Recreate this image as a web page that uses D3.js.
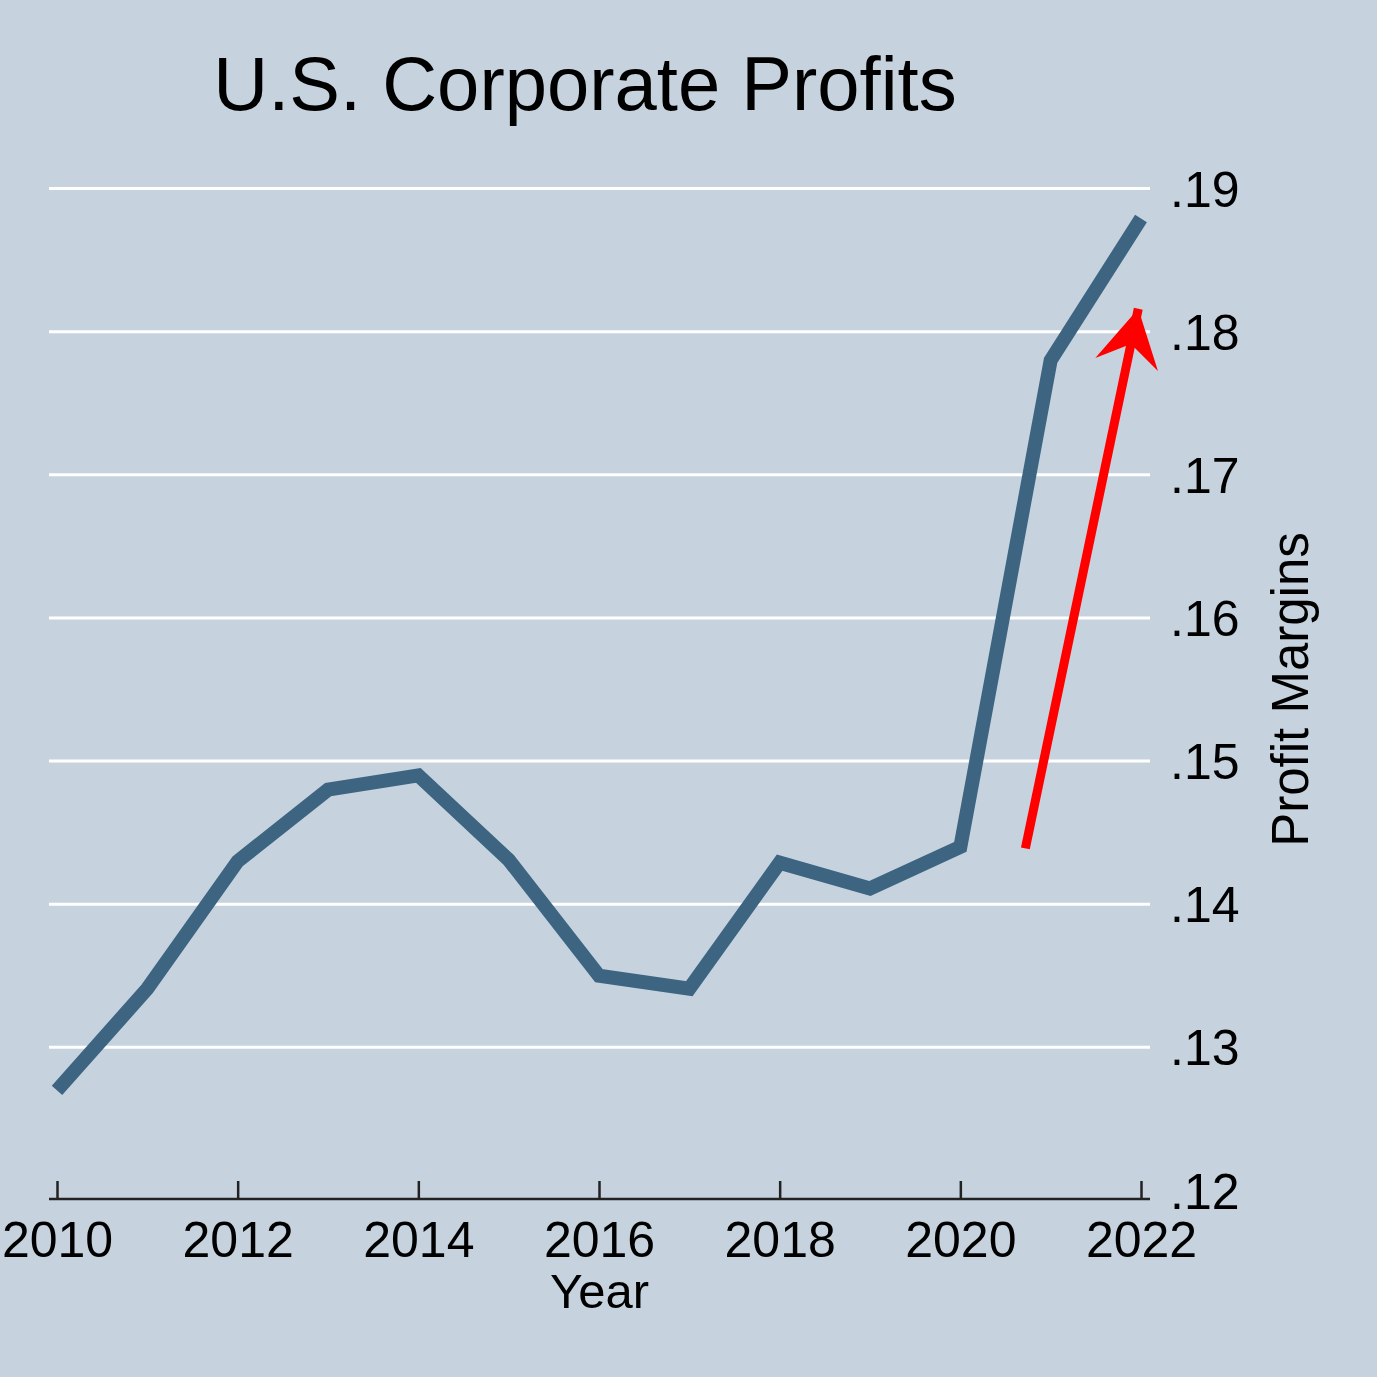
<!DOCTYPE html>
<html>
<head>
<meta charset="utf-8">
<script src="https://cdn.jsdelivr.net/npm/d3@7"></script>
<style>
  html, body { margin: 0; padding: 0; background: #c6d3df; }
  text { font-family: "Liberation Sans", Arial, sans-serif; fill: #000; }
</style>
</head>
<body>
<div id="chart"></div>
<script>
// data
var years = [2010, 2011, 2012, 2013, 2014, 2015, 2016, 2017, 2018, 2019, 2020, 2021, 2022];
var margins = [0.1270, 0.1341, 0.1430, 0.1480, 0.1490, 0.1431, 0.1350, 0.1341, 0.1429, 0.1411, 0.1440, 0.1780, 0.1879];
var xTicks = [2010, 2012, 2014, 2016, 2018, 2020, 2022];
var yTicks = [0.12, 0.13, 0.14, 0.15, 0.16, 0.17, 0.18, 0.19];
var arrowFrom = [2020.72, 0.1439];
var arrowTo = [2021.97, 0.1816];

var w_svg = 1377, h_svg = 1377;
var bg = "#c6d3df";
var lineColor = "#3d6480";

var x = d3.scaleLinear().domain([2010, 2022]).range([57, 1141]);
var y = d3.scaleLinear().domain([0.12, 0.19]).range([1190.5, 188.5]);

var svg = d3.select("#chart")
  .append("svg")
  .attr("width", w_svg)
  .attr("height", h_svg);

svg.append("rect")
  .attr("width", w_svg)
  .attr("height", h_svg)
  .attr("fill", bg);

var gridLeft = x(2010) - 8, gridRight = x(2022) + 9;
var axisY = y(0.12) + 8.5;

// gridlines (none at the bottom tick)
svg.append("g")
  .selectAll("line")
  .data(yTicks.filter(function(d) { return d > 0.12; }))
  .enter()
  .append("line")
  .attr("x1", gridLeft)
  .attr("x2", gridRight)
  .attr("y1", function(d) { return y(d); })
  .attr("y2", function(d) { return y(d); })
  .attr("stroke", "#ffffff")
  .attr("stroke-width", 3);

// right y axis labels
var yAxis = d3.axisRight(y)
  .tickValues(yTicks)
  .tickSize(0)
  .tickPadding(0)
  .tickFormat(function(d) { return d3.format(".2f")(d).replace(/^0/, ""); });

var gy = svg.append("g")
  .attr("transform", "translate(1170,0)")
  .call(yAxis);
gy.select(".domain").remove();
gy.selectAll("text")
  .attr("x", 0)
  .attr("dy", "0.35em")
  .style("font-size", "50px")
  .style("font-family", "'Liberation Sans', Arial, sans-serif")
  .attr("fill", "#000");

// bottom x axis
var xAxis = d3.axisBottom(x)
  .tickValues(xTicks)
  .tickSizeInner(-18)
  .tickSizeOuter(0)
  .tickFormat(d3.format("d"));

var gx = svg.append("g")
  .attr("transform", "translate(0," + axisY + ")")
  .call(xAxis);
gx.select(".domain").remove();
gx.selectAll(".tick line")
  .attr("stroke", "#222")
  .attr("stroke-width", 2.5);
gx.selectAll("text")
  .attr("y", 58)
  .attr("dy", 0)
  .style("font-size", "50px")
  .style("font-family", "'Liberation Sans', Arial, sans-serif")
  .attr("fill", "#000");

gx.append("line")
  .attr("x1", gridLeft)
  .attr("x2", gridRight)
  .attr("y1", 0)
  .attr("y2", 0)
  .attr("stroke", "#222")
  .attr("stroke-width", 2.5);

// series line
var line = d3.line()
  .x(function(d, i) { return x(years[i]); })
  .y(function(d) { return y(d); });

svg.append("path")
  .datum(margins)
  .attr("d", line)
  .attr("fill", "none")
  .attr("stroke", lineColor)
  .attr("stroke-width", 14)
  .attr("stroke-linejoin", "miter")
  .attr("stroke-linecap", "butt");

// red arrow
var x0 = x(arrowFrom[0]), y0 = y(arrowFrom[1]);
var x1 = x(arrowTo[0]), y1 = y(arrowTo[1]);
var len = Math.sqrt((x1 - x0) * (x1 - x0) + (y1 - y0) * (y1 - y0));
var ux = (x1 - x0) / len, uy = (y1 - y0) / len;
var nx = -uy, ny = ux;
var back = 57, half = 32, notch = 36;

svg.append("line")
  .attr("x1", x0).attr("y1", y0)
  .attr("x2", x1 - ux * 20).attr("y2", y1 - uy * 20)
  .attr("stroke", "#ff0000")
  .attr("stroke-width", 9);

var head = [
  [x1, y1],
  [x1 - ux * back + nx * half, y1 - uy * back + ny * half],
  [x1 - ux * notch, y1 - uy * notch],
  [x1 - ux * back - nx * half, y1 - uy * back - ny * half]
];
svg.append("path")
  .attr("d", "M" + head.map(function(p) { return p.join(","); }).join("L") + "Z")
  .attr("fill", "#ff0000");
svg.append("line")
  .attr("x1", x1 - ux * 30).attr("y1", y1 - uy * 30)
  .attr("x2", x1).attr("y2", y1)
  .attr("stroke", "#ff0000")
  .attr("stroke-width", 9);

// titles
svg.append("text")
  .attr("x", 585)
  .attr("y", 110)
  .attr("text-anchor", "middle")
  .style("font-size", "76px")
  .text("U.S. Corporate Profits");

svg.append("text")
  .attr("x", (gridLeft + gridRight) / 2)
  .attr("y", 1308)
  .attr("text-anchor", "middle")
  .style("font-size", "49px")
  .text("Year");

svg.append("text")
  .attr("transform", "translate(1308," + y(0.155) + ") rotate(-90)")
  .attr("text-anchor", "middle")
  .style("font-size", "51px")
  .text("Profit Margins");
</script>
</body>
</html>
